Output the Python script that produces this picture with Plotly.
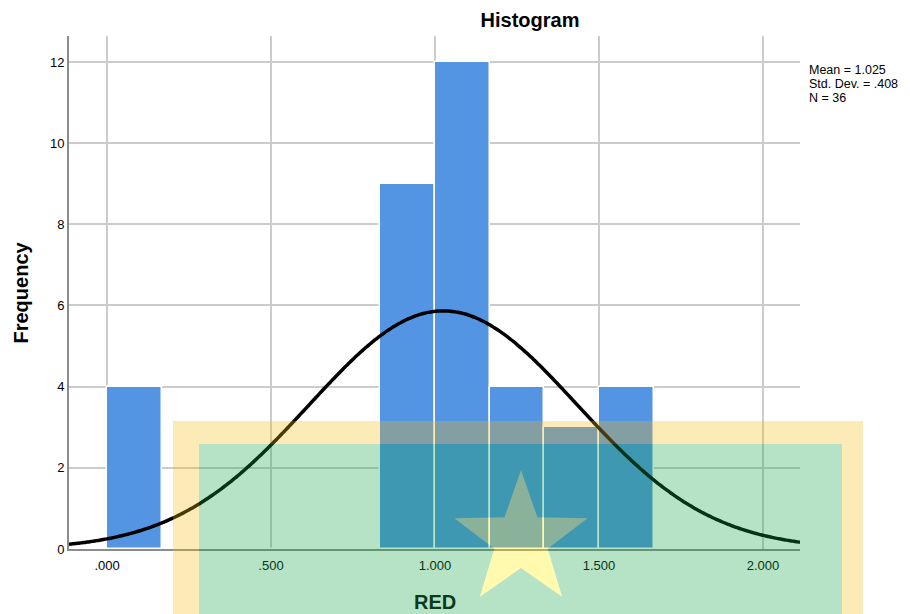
import math
import plotly.graph_objects as go

# ---- data ----
bin_edges_left = [0/6, 1/6, 2/6, 3/6, 4/6, 5/6, 6/6, 7/6, 8/6, 9/6]
counts = [4, 0, 0, 0, 0, 9, 12, 4, 3, 4]
bin_width = 1 / 6
mean_val = 1.025
std_val = 0.408
n_val = 36
stats_lines = ["Mean = 1.025", "Std. Dev. = .408", "N = 36"]
x_tick_vals = [0.0, 0.5, 1.0, 1.5, 2.0]
x_tick_text = [".000", ".500", "1.000", "1.500", "2.000"]
y_tick_vals = [0, 2, 4, 6, 8, 10, 12]
x_range = [-0.116, 2.113]
y_range = [0, 12.64]

# ---- layout geometry (screen pixels; page body has an 8px offset) ----
OFF = 8
W, H = 910 - OFF, 614 - OFF
PL, PR, PT, PB = 69, 800, 36, 549  # plot area in screen px
ML, MT = PL - OFF, PT - OFF
MR, MB = W - (PR - OFF), H - (PB - OFF)
PW = PR - PL
PH = PB - PT


def px(x):
    return (x - PL) / PW


def py(y):
    return (PB - y) / PH


centers = [e + bin_width / 2 for e in bin_edges_left]

# normal curve from mean / sd, scaled to counts
npts = 300
cx = [x_range[0] + (x_range[1] - x_range[0]) * i / (npts - 1) for i in range(npts)]
scale = n_val * bin_width / (std_val * math.sqrt(2 * math.pi))
cy = [scale * math.exp(-0.5 * ((v - mean_val) / std_val) ** 2) for v in cx]

fig = go.Figure()
fig.add_trace(go.Bar(
    x=centers, y=counts, width=bin_width,
    marker=dict(color="#5394e3", line=dict(color="white", width=1.5)),
    hoverinfo="skip", showlegend=False,
))
fig.add_trace(go.Scatter(
    x=cx, y=cy, mode="lines", line=dict(color="black", width=3.5, shape="spline"),
    hoverinfo="skip", showlegend=False,
))

# ---- decorative overlay (semi-transparent flag) ----
shapes = []
yellow = "rgba(245,185,15,0.30)"
green = "rgba(19,161,71,0.31)"
star_col = "rgba(255,240,0,0.32)"
ox0, ox1, oy0 = 173, 863, 421
ix0, ix1, iy0 = 199, 842, 444
ybot = 625


def rect(x0, y0, x1, y1, color):
    return dict(type="rect", xref="paper", yref="paper",
                x0=px(x0), x1=px(x1), y0=py(y1), y1=py(y0),
                fillcolor=color, line=dict(width=0), layer="above")


shapes.append(rect(ox0, oy0, ox1, iy0, yellow))
shapes.append(rect(ox0, iy0, ix0, ybot, yellow))
shapes.append(rect(ix1, iy0, ox1, ybot, yellow))

# star points (screen pixels)
scx, scy, R = 521, 540, 70
r_in = R * 0.40
pts = []
for k in range(10):
    ang = math.radians(90 + 36 * k)
    rr = R if k % 2 == 0 else r_in
    pts.append((scx + rr * math.cos(ang), scy - rr * math.sin(ang)))
star_path = "M " + " L ".join(f"{px(a):.5f},{py(b):.5f}" for a, b in pts) + " Z"
rect_path = (f"M {px(ix0):.5f},{py(iy0):.5f} L {px(ix1):.5f},{py(iy0):.5f} "
             f"L {px(ix1):.5f},{py(ybot):.5f} L {px(ix0):.5f},{py(ybot):.5f} Z")
shapes.append(dict(type="path", xref="paper", yref="paper", path=rect_path + " " + star_path,
                   fillcolor=green, fillrule="evenodd", line=dict(width=0), layer="above"))
shapes.append(dict(type="path", xref="paper", yref="paper", path=star_path,
                   fillcolor=star_col, line=dict(width=0), layer="above"))

font_fam = "Arial, Liberation Sans, sans-serif"

annotations = []
for i, line in enumerate(stats_lines):
    annotations.append(dict(
        text=line, xref="paper", yref="paper", x=px(808), y=py(70 + 14 * i),
        xanchor="left", yanchor="middle", align="left", showarrow=False,
        font=dict(size=12.5, color="black"), borderpad=0,
    ))
annotations.append(dict(
    text="<b>Frequency</b>", xref="paper", yref="paper", x=px(20.5), y=py(292),
    xanchor="center", yanchor="middle", textangle=-90, showarrow=False,
    font=dict(size=20, color="black"),
))
annotations.append(dict(
    text="<b>RED</b>", xref="paper", yref="paper", x=px(435), y=py(602),
    xanchor="center", yanchor="middle", showarrow=False,
    font=dict(size=20, color="#0a3a1c"),
))

fig.update_layout(
    width=W, height=H,
    margin=dict(l=ML, r=MR, t=MT, b=MB, autoexpand=False),
    paper_bgcolor="white", plot_bgcolor="white",
    font=dict(family=font_fam, size=13, color="black"),
    bargap=0,
    title=dict(text="<b>Histogram</b>", x=(530 - OFF) / W, xanchor="center",
               y=1 - (20 - OFF) / H, yanchor="middle", font=dict(size=20, color="black")),
    xaxis=dict(range=x_range, tickvals=x_tick_vals, ticktext=x_tick_text,
               showgrid=True, gridcolor="#cccccc", gridwidth=1.5,
               showline=True, linecolor="#8c8c8c", linewidth=2,
               ticks="", zeroline=False, tickfont=dict(size=13),
               ticklabelstandoff=3),
    yaxis=dict(range=y_range, tickvals=y_tick_vals,
               showgrid=True, gridcolor="#cccccc", gridwidth=1.5,
               showline=True, linecolor="#8c8c8c", linewidth=2,
               ticks="", zeroline=False, tickfont=dict(size=13)),
    shapes=shapes,
    annotations=annotations,
)

fig.write_html("out.html")
